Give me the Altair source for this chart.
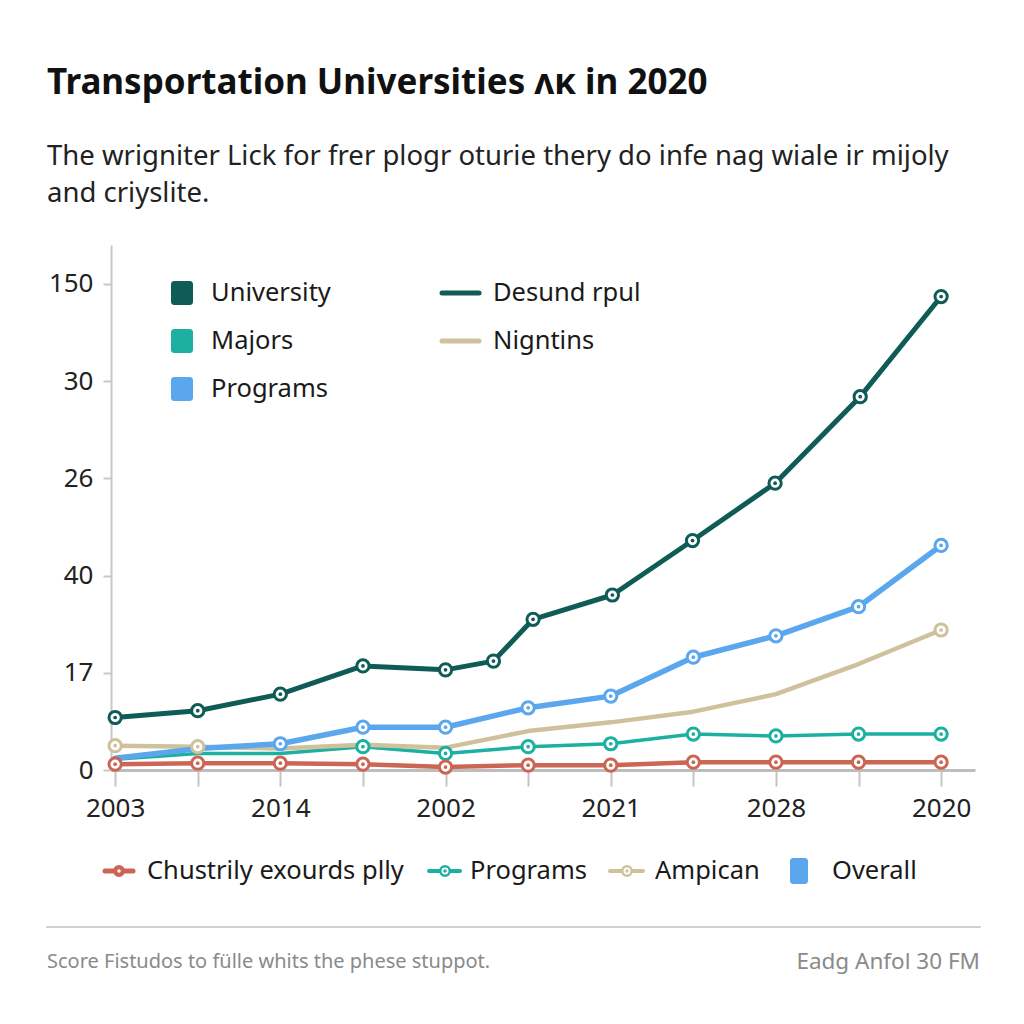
import altair as alt
import pandas as pd

# ---------------- data ----------------
y_tick_labels = ["0", "17", "40", "26", "30", "150"]
x_tick_labels = ["2003", "", "2014", "", "2002", "", "2021", "", "2028", "", "2020"]

x_main = [0, 1, 2, 3, 4, 5, 6, 7, 8, 9, 10]
x_dark = [0, 1, 2, 3, 4, 4.58, 5.06, 6.02, 6.99, 7.99, 9.02, 10]

dark_vals = [0.54, 0.61, 0.78, 1.07, 1.03, 1.12, 1.55, 1.80, 2.36, 2.95, 3.84, 4.87]
blue_vals = [0.12, 0.22, 0.27, 0.44, 0.44, 0.64, 0.76, 1.16, 1.38, 1.68, 2.31]
tan_vals = [0.25, 0.24, 0.22, 0.26, 0.23, 0.40, 0.49, 0.60, 0.78, 1.09, 1.44]
teal_vals = [0.11, 0.17, 0.17, 0.24, 0.17, 0.24, 0.27, 0.37, 0.35, 0.37, 0.37]
red_vals = [0.06, 0.07, 0.07, 0.06, 0.03, 0.05, 0.05, 0.08, 0.08, 0.08, 0.08]

series_names = ["University", "Overall", "Ampican", "Programs", "Chustrily exourds plly"]
series_colors = ["#0f5b56", "#5aa7ee", "#cfc19c", "#1db0a1", "#cc6654"]

top_legend_sq = ["University", "Majors", "Programs"]
top_legend_sq_colors = ["#0f5b56", "#1db0a1", "#5aa7ee"]
top_legend_ln = ["Desund rpul", "Nigntins"]
top_legend_ln_colors = ["#0f5b56", "#cfc19c"]

title_text = "Transportation Universities ʌκ in 2020"
subtitle_lines = ["The wrigniter Lick for frer plogr oturie thery do infe nag wiale ir mijoly",
                  "and criyslite."]
footer_left = "Score Fistudos to fülle whits the phese stuppot."
footer_right = "Eadg Anfol 30 FM"

# which points carry a marker (style, not data)
unmarked = {"Overall": [0, 1], "Ampican": [2, 3, 4, 5, 6, 7, 8, 9], "Programs": [0, 1, 2]}

# ---------------- build table ----------------
rows = []
for name, xs, vals in [
    ("University", x_dark, dark_vals),
    ("Overall", x_main, blue_vals),
    ("Ampican", x_main, tan_vals),
    ("Programs", x_main, teal_vals),
    ("Chustrily exourds plly", x_main, red_vals),
]:
    for i, (xv, v) in enumerate(zip(xs, vals)):
        rows.append({"series": name, "x": xv, "v": v, "order": i,
                     "marked": i not in unmarked.get(name, [])})
df = pd.DataFrame(rows)

FONT = "Noto Sans"
W, H = 864, 525
OX, OY = 111, 245  # absolute position of plot origin

xs = alt.Scale(domain=[-0.05, 10.41], nice=False, zero=False)
ys = alt.Scale(domain=[0, 5.4], nice=False)
col = alt.Scale(domain=series_names, range=series_colors)

x_enc = alt.X("x:Q", scale=xs, axis=alt.Axis(
    values=list(range(11)), grid=False,
    labelExpr="[" + ",".join("'%s'" % s for s in x_tick_labels) + "][datum.value]",
    labelFontSize=26, labelFont=FONT, labelColor="#222", labelPadding=9,
    domainColor="#bdbdbd", domainWidth=3, tickColor="#c4c4c4", tickWidth=2, tickSize=16,
    title=None, labelFlush=False))
y_enc = alt.Y("v:Q", scale=ys, axis=alt.Axis(
    values=list(range(6)), grid=False,
    labelExpr="[" + ",".join("'%s'" % s for s in y_tick_labels) + "][datum.value]",
    labelFontSize=26, labelFont=FONT, labelColor="#222", labelPadding=10,
    domainColor="#c8c8c8", domainWidth=2, tickColor="#c8c8c8", tickWidth=2, tickSize=8,
    title=None))

base = alt.Chart(df)
widths = {"University": 5, "Overall": 5.5, "Ampican": 4.5, "Programs": 3.5, "Chustrily exourds plly": 4.5}
lines = []
for name in series_names[::-1]:
    lines.append(base.transform_filter(alt.datum.series == name).mark_line(
        strokeWidth=widths[name], strokeCap="round", strokeJoin="round").encode(
        x=x_enc, y=y_enc, order="order:Q",
        color=alt.Color("series:N", scale=col, legend=None)))

mk = base.transform_filter(alt.datum.marked)
outer = mk.mark_point(filled=True, fill="white", strokeWidth=3, size=150, opacity=1).encode(
    x="x:Q", y="v:Q", stroke=alt.Color("series:N", scale=col, legend=None))
dot = mk.mark_point(filled=True, size=14, opacity=1).encode(
    x="x:Q", y="v:Q", color=alt.Color("series:N", scale=col, legend=None))


# ---------------- decoration helpers ----------------
one = pd.DataFrame({"k": [0]})


def text(s, ax, ay, size, color="#1a1a1a", weight="normal", align="left"):
    return alt.Chart(one).mark_text(
        text=s, font=FONT, fontSize=size, fontWeight=weight, color=color,
        align=align, baseline="middle").encode(x=alt.value(ax - OX), y=alt.value(ay - OY))


def rect(ax, ay, w, h, color):
    return alt.Chart(one).mark_rect(color=color, cornerRadius=3).encode(
        x=alt.value(ax - OX), x2=alt.value(ax - OX + w),
        y=alt.value(ay - OY), y2=alt.value(ay - OY + h))


def hline(ax1, ax2, ay, color, width):
    return alt.Chart(one).mark_rule(color=color, strokeWidth=width, strokeCap="round").encode(
        x=alt.value(ax1 - OX), x2=alt.value(ax2 - OX), y=alt.value(ay - OY))


def marker(ax, ay, color, filled_center):
    o = alt.Chart(one).mark_point(filled=True, fill="white" if not filled_center else color,
                                  stroke=color, strokeWidth=2.5, size=90, opacity=1).encode(
        x=alt.value(ax - OX), y=alt.value(ay - OY))
    d = alt.Chart(one).mark_point(filled=True, color="white" if filled_center else color,
                                  size=12, opacity=1).encode(x=alt.value(ax - OX), y=alt.value(ay - OY))
    return [o, d]


deco = []
deco.append(text(title_text, 47, 83, 35, weight="bold", color="#111"))
deco.append(text(subtitle_lines[0], 47, 157, 27.5, color="#222"))
deco.append(text(subtitle_lines[1], 47, 194, 27.5, color="#222"))

for i, (lab, c) in enumerate(zip(top_legend_sq, top_legend_sq_colors)):
    yy = 293 + i * 48
    deco.append(rect(171, yy - 12, 22, 24, c))
    deco.append(text(lab, 211, yy, 25.5))
for i, (lab, c) in enumerate(zip(top_legend_ln, top_legend_ln_colors)):
    yy = 293 + i * 48
    deco.append(hline(442, 479, yy, c, 5))
    deco.append(text(lab, 493, yy, 25.5))

# bottom legend
by = 871
deco.append(hline(105, 133, by, "#cc6654", 5))
deco += marker(119, by, "#cc6654", True)
deco.append(text("Chustrily exourds plly", 147, by, 25.5))
deco.append(hline(429, 460, by, "#1db0a1", 4))
deco += marker(445, by, "#1db0a1", False)
deco.append(text("Programs", 470, by, 25.5))
deco.append(hline(610, 643, by, "#cfc19c", 4))
deco += marker(627, by, "#cfc19c", False)
deco.append(text("Ampican", 655, by, 25.5))
deco.append(rect(790, by - 13, 18, 26, "#5aa7ee"))
deco.append(text("Overall", 832, by, 25.5))

deco.append(hline(47, 980, 927, "#d0d0d0", 2))
deco.append(text(footer_left, 47, 962, 20, color="#8a8a8a"))
deco.append(text(footer_right, 980, 962, 22.5, color="#8a8a8a", align="right"))

chart = alt.layer(*lines, outer, dot, *deco).properties(
    width=W, height=H,
    autosize=alt.AutoSizeParams(type="none"),
    padding={"left": OX - 8, "top": OY - 8, "right": 1024 - 16 - (OX - 8) - W, "bottom": 1024 - 16 - (OY - 8) - H},
    background="white",
).configure_view(stroke=None)

chart.save("out.html", embed_options={"renderer": "svg", "actions": False})
